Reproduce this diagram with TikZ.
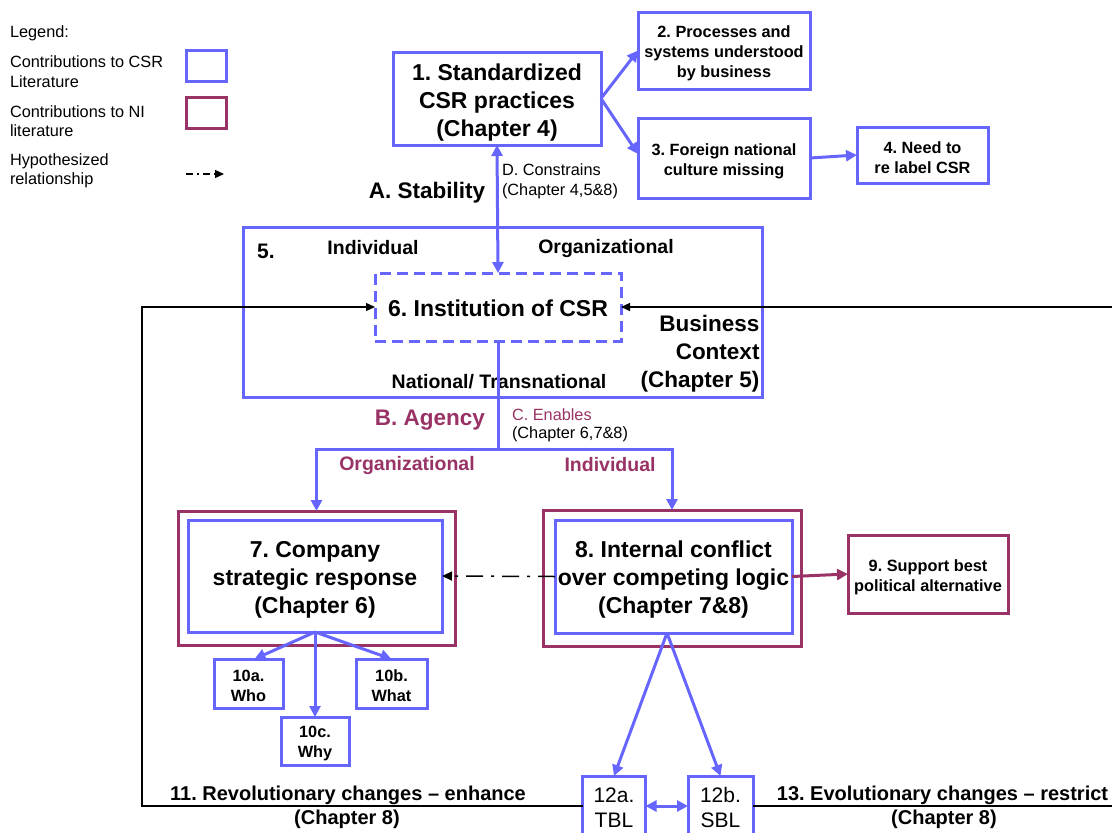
\documentclass[tikz,border=0pt]{standalone}
\usepackage{fontspec}
\setmainfont{Liberation Sans}
\usetikzlibrary{arrows.meta,calc}
\definecolor{csrblue}{RGB}{102,102,255}
\definecolor{nimaroon}{RGB}{153,51,102}
\newcommand{\fsz}[2]{\fontsize{#1}{#2}\selectfont}
\frenchspacing
\begin{document}
\begin{tikzpicture}[x=1pt,y=-1pt,
  every node/.style={inner sep=0pt,outer sep=0pt},
  bbox/.style={draw=csrblue,line width=3pt,fill=white},
  mbox/.style={draw=nimaroon,line width=3pt,fill=white},
  txt/.style={align=center,font=\bfseries\fsz{#1}{26}},
  big/.style={align=center,font=\bfseries\fsz{23}{28},yshift=-4pt},
  mid/.style={align=center,font=\bfseries\fsz{16.3}{20},yshift=-3pt},
  plain/.style={align=left,font=\fsz{16.3}{19.5}},
  barrow/.style={draw=csrblue,line width=3pt,-{Triangle[length=11pt,width=11pt]}},
  bdarrow/.style={draw=csrblue,line width=3pt,{Triangle[length=11pt,width=11pt]}-{Triangle[length=11pt,width=11pt]}},
  marrow/.style={draw=nimaroon,line width=3pt,-{Triangle[length=11pt,width=11pt]}},
  fbline/.style={draw=black,line width=1.3pt},
  fbarrow/.style={fbline,-{Triangle[length=9pt,width=8pt]}},
  hyp/.style={draw=black,line width=1.5pt,dash pattern=on 17pt off 8pt on 3pt off 8pt,-{Triangle[length=10pt,width=9pt]}}
]
\useasboundingbox (0,0) rectangle (1112,833);

% legend
\node[plain,anchor=west] (lgtitle) at (10,33) {Legend:};
\node[plain,anchor=west] (lgcsr) at (10,71.5) {Contributions to CSR\\Literature};
\node[bbox,minimum width=40pt,minimum height=31pt] (lgbbox) at (206,65.5) {};
\node[plain,anchor=west] (lgni) at (10,121) {Contributions to NI\\literature};
\node[mbox,minimum width=40pt,minimum height=31pt] (lgmbox) at (206,112.5) {};
\node[plain,anchor=west] (lghyp) at (10,171) {Hypothesized\\relationship};
\coordinate (lga) at (186,174);
\coordinate (lgb) at (224,174);
\draw[draw=black,line width=1.3pt,dash pattern=on 7pt off 4pt on 2pt off 4pt,-{Triangle[length=9pt,width=8pt]}] (lga) -- (lgb);

% top boxes
\node[bbox,minimum width=208pt,minimum height=93pt] (b1) at (497,98.5) {};
\node[big] (b1t) at (b1) {1. Standardized\\CSR practices\\(Chapter 4)};
\node[bbox,minimum width=172pt,minimum height=77pt] (b2) at (724,50.5) {};
\node[mid] (b2t) at (b2) {2. Processes and\\systems understood\\by business};
\node[bbox,minimum width=172pt,minimum height=80pt] (b3) at (724,158) {};
\node[mid] (b3t) at (b3) {3. Foreign national\\culture missing};
\node[bbox,minimum width=131pt,minimum height=56pt] (b4) at (922.5,155) {};
\node[mid] (b4t) at (b4) {4. Need to\\re label CSR};

\draw[barrow] (b1.east) -- (b2.west);
\draw[barrow] (b1.east) -- ($(b3.west)+(0,-4)$);
\draw[barrow] (b3.east) -- (b4.west);

% business context
\node[bbox,fill=none,minimum width=519pt,minimum height=170pt] (b5) at (502.5,312) {};
\node[txt=21] (n5) at (266,251) {5.};
\node[txt=19.5] (ind1) at (373,248) {Individual};
\node[txt=19.5] (org1) at (606,248) {Organizational};
\node[align=right,font=\bfseries\fsz{22.5}{28},anchor=east] (bctx) at (759.5,354) {Business\\Context\\(Chapter 5)};
\node[txt=19.5] (nat) at (499,382) {National/ Transnational};

\node[draw=csrblue,line width=3pt,dash pattern=on 11pt off 6pt,minimum width=246pt,minimum height=68pt] (b6) at (498,307) {};
\node[font=\bfseries\fsz{23}{28},yshift=-1pt] (b6t) at (b6) {6. Institution of CSR};

\draw[bdarrow] (b1.south) -- (b6.north);
\node[txt=22.5] (stab) at (427,193) {A. Stability};
\node[plain,anchor=west] (dcon) at (502,181.5) {D. Constrains\\(Chapter 4,5\&8)};

% agency split
\coordinate (split) at (498,449);
\draw[draw=csrblue,line width=3pt] (b6.south) -- (split);
\node[txt=22.5,text=nimaroon] (agency) at (430,420) {B. Agency};
\node[plain,anchor=west,text=nimaroon] (cen) at (512,414.5) {C. Enables};
\node[plain,anchor=west] (cench) at (512,434.5) {(Chapter 6,7\&8)};
\node[txt=19.5,text=nimaroon] (org2) at (407,465) {Organizational};
\node[txt=19.5,text=nimaroon] (ind2) at (610,465) {Individual};

% boxes 7 and 8
\node[mbox,minimum width=277pt,minimum height=134pt] (b7o) at (316.5,578) {};
\node[bbox,minimum width=254pt,minimum height=112pt] (b7i) at (315,576) {};
\node[big] (b7t) at (b7i) {7. Company\\strategic response\\(Chapter 6)};
\node[mbox,minimum width=258pt,minimum height=136pt] (b8o) at (672,578) {};
\node[bbox,minimum width=237pt,minimum height=113pt] (b8i) at (673.5,576.5) {};
\node[big,yshift=1pt] (b8t) at (b8i) {8. Internal conflict\\over competing logic\\(Chapter 7\&8)};

\draw[barrow] (split) -| (b7o.north);
\draw[barrow] (split) -| (b8o.north);

\draw[hyp] (b8i.west) -- (b7i.east);

\node[mbox,minimum width=160pt,minimum height=78pt] (b9) at (928,574) {};
\node[mid] (b9t) at (b9) {9. Support best\\political alternative};
\draw[marrow] (b8i.east) -- (b9.west);

% responses
\node[bbox,minimum width=69pt,minimum height=49pt] (b10a) at (248.5,683.5) {};
\node[mid,yshift=1pt] (b10at) at (b10a) {10a.\\Who};
\node[bbox,minimum width=71pt,minimum height=49pt] (b10b) at (391.5,683.5) {};
\node[mid,yshift=1pt] (b10bt) at (b10b) {10b.\\What};
\node[bbox,minimum width=68pt,minimum height=48pt] (b10c) at (315,741) {};
\node[mid,yshift=1pt] (b10ct) at (b10c) {10c.\\Why};
\draw[barrow] (b7i.south) -- ($(b10a.north)+(6,0)$);
\draw[barrow] (b7i.south) -- (b10b.north);
\draw[barrow] (b7i.south) -- (b10c.north);

% logics
\node[bbox,minimum width=63pt,minimum height=60pt] (b12a) at (614,806) {};
\node[bbox,minimum width=65pt,minimum height=60pt] (b12b) at (720.5,806) {};
\node[align=center,font=\fsz{21}{25}] (t12a) at (614,807.5) {12a.\\TBL};
\node[align=center,font=\fsz{21}{25}] (t12b) at (720.5,807.5) {12b.\\SBL};
\coordinate (apex) at (667,633);
\draw[barrow] (apex) -- (b12a.north);
\draw[barrow] (apex) -- (b12b.north);
\draw[bdarrow] (b12a.east) -- (b12b.west);

% feedback loops
\draw[fbarrow] (b12a.west) -- (142,806) -- (142,307) -- (b6.west);
\draw[fbarrow] (b12b.east) -- (1125,806) -- (1125,307) -- (b6.east);
\node[txt=20] (rev) at (348,795) {11. Revolutionary changes – enhance};
\node[txt=20] (revch) at (347,819) {(Chapter 8)};
\node[txt=20] (evo) at (942.5,795) {13. Evolutionary changes – restrict};
\node[txt=20] (evoch) at (944,819) {(Chapter 8)};
\end{tikzpicture}
\end{document}
